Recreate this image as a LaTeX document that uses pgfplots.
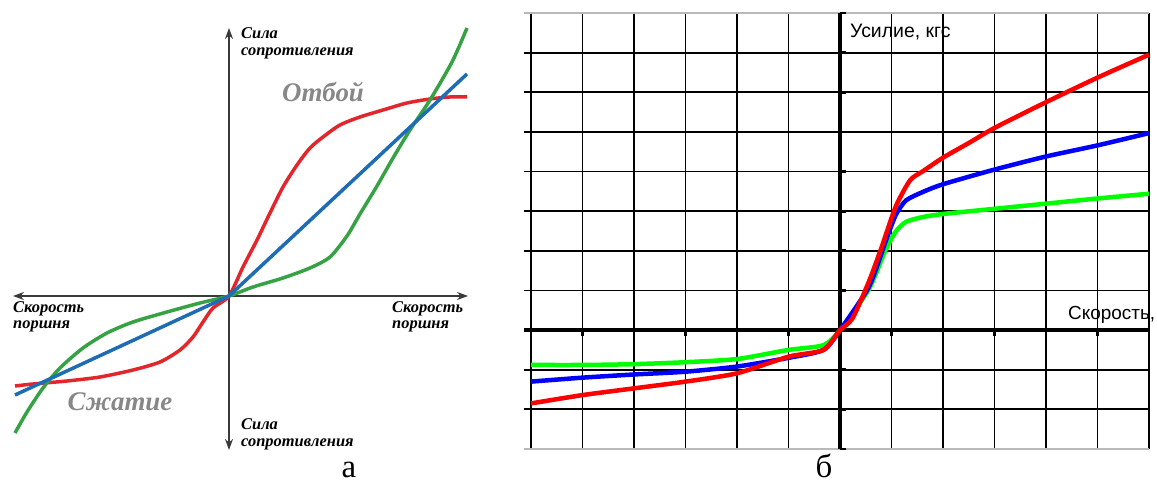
\documentclass[border=0pt]{standalone}
\usepackage{fontspec}
\setmainfont{Liberation Serif}
\newfontfamily\sansf{Liberation Sans}
\usepackage{pgfplots}
\pgfplotsset{compat=1.18}
\usetikzlibrary{arrows.meta}
\definecolor{ared}{HTML}{E2262B}
\definecolor{agreen}{HTML}{36A244}
\definecolor{ablue}{HTML}{1E6CB4}
\definecolor{axgray}{HTML}{3A3A3A}
\definecolor{txtgray}{HTML}{878787}
\newcommand{\lbl}{\fontsize{16.5}{16.5}\selectfont\bfseries\itshape}
\begin{document}
\begin{tikzpicture}[x=1bp,y=1bp]
\path[use as bounding box] (0,0) rectangle (1157,486);
% ---------------- panel a ----------------
\begin{axis}[at={(13bp,31bp)}, anchor=south west, scale only axis,
  width=457bp, height=435bp, xmin=-216, xmax=241, ymin=-159, ymax=276,
  hide axis, clip=false]
\draw[axgray, line width=1.4bp, {Stealth[length=11bp,width=8bp]}-{Stealth[length=11bp,width=8bp]}] (axis cs:-216,0) -- (axis cs:239,0);
\draw[axgray, line width=1.4bp, {Stealth[length=11bp,width=8bp]}-{Stealth[length=11bp,width=8bp]}] (axis cs:0,-154) -- (axis cs:0,268);
\addplot[ared, line width=3.5bp, smooth, tension=0.45] coordinates {
(-214,-90) (-196,-88) (-162,-85) (-129,-81) (-96,-74) (-69,-66) (-49,-54)
(-36,-41) (-26,-26) (-16,-12) (0,0) (14,29) (28,56) (41,83) (54,109) (68,131)
(81,148) (94,159) (111,171) (131,179) (154,186) (178,193) (201,197) (221,199) (238,199)};
\addplot[agreen, line width=3.5bp, smooth, tension=0.45] coordinates {
(-214,-137) (-202,-116) (-186,-92) (-169,-72) (-146,-52) (-122,-37) (-96,-26)
(-62,-16) (-29,-7) (0,0) (24,9) (54,18) (81,28) (101,39) (118,60) (131,82)
(148,110) (164,138) (181,166) (201,196) (223,234) (238,268)};
\addplot[ablue, line width=3.5bp] coordinates {(-214,-99) (0,0) (238,222)};
\node[anchor=base west, inner sep=0pt] at (axis cs:12,257) {\lbl Сила};
\node[anchor=base west, inner sep=0pt] at (axis cs:12,240) {\lbl сопротивления};
\node[anchor=base west, inner sep=0pt] at (axis cs:12,-134) {\lbl Сила};
\node[anchor=base west, inner sep=0pt] at (axis cs:12,-151) {\lbl сопротивления};
\node[anchor=base west, inner sep=0pt] at (axis cs:-216,-17) {\lbl Скорость};
\node[anchor=base west, inner sep=0pt] at (axis cs:-216,-33) {\lbl поршня};
\node[anchor=base west, inner sep=0pt] at (axis cs:163,-17) {\lbl Скорость};
\node[anchor=base west, inner sep=0pt] at (axis cs:163,-33) {\lbl поршня};
\node[txtgray, inner sep=0pt] at (axis cs:94,204) {\fontsize{27}{27}\selectfont\bfseries\itshape Отбой};
\node[txtgray, inner sep=0pt] at (axis cs:-109,-106) {\fontsize{27}{27}\selectfont\bfseries\itshape Сжатие};
\end{axis}
% ---------------- panel b ----------------
\begin{axis}[at={(531bp,37bp)}, anchor=south west, scale only axis,
  width=618bp, height=436bp, xmin=-6, xmax=6, ymin=-3, ymax=8,
  xtick={-6,...,6}, ytick={-2,...,7}, xticklabels={}, yticklabels={},
  major tick length=0pt, axis line style={draw=none},
  grid=major, major grid style={black, line width=1.8bp},
  extra y ticks={-3,8}, extra y tick labels={},
  extra y tick style={major grid style={gray!55, line width=1.8bp}},
  clip=false]
\pgfplotsinvokeforeach{-2,...,7}{\draw[black, line width=1.8bp] (axis cs:-6,#1) -- (axis cs:-6.136,#1);}
\draw[gray!55, line width=1.8bp] (axis cs:-6,8) -- (axis cs:-6.136,8);
\draw[gray!55, line width=1.8bp] (axis cs:-6,-3) -- (axis cs:-6.136,-3);
\draw[black, line width=3.5bp] (axis cs:0,-3) -- (axis cs:0,8);
\draw[black, line width=3.5bp] (axis cs:-6.136,0) -- (axis cs:6,0);
\pgfplotsinvokeforeach{-3,...,8}{\draw[black, line width=2.8bp] (axis cs:0,#1) -- (axis cs:0.1165,#1);}
\pgfplotsinvokeforeach{-6,...,6}{\draw[black, line width=2.8bp] (axis cs:#1,0) -- (axis cs:#1,-0.151);}
\addplot[green, line width=4.5bp, smooth, tension=0.4] coordinates {
(-6,-0.88) (-5,-0.88) (-4,-0.86) (-3,-0.81) (-2,-0.73) (-1,-0.5) (-0.32,-0.38)
(0,0) (0.56,1.03) (0.88,2.01) (1.08,2.48) (1.28,2.73) (1.6,2.85) (2,2.93)
(3,3.06) (4,3.19) (5,3.32) (6,3.44)};
\addplot[blue, line width=4.5bp, smooth, tension=0.4] coordinates {
(-6,-1.30) (-5,-1.20) (-4,-1.12) (-3,-1.05) (-2,-0.92) (-1,-0.70) (-0.32,-0.5)
(0,0) (0.56,1.09) (0.88,2.22) (1.08,2.9) (1.28,3.27) (1.6,3.48) (2,3.68)
(3,4.05) (4,4.38) (5,4.66) (6,4.97)};
\addplot[red, line width=4.5bp, smooth, tension=0.4] coordinates {
(-6,-1.85) (-5,-1.64) (-4,-1.47) (-3,-1.30) (-2,-1.09) (-1,-0.67) (-0.32,-0.5)
(0,0) (0.24,0.29) (0.56,1.22) (0.8,2.06) (1.08,3.11) (1.36,3.78) (1.6,4.0)
(2,4.35) (2.5,4.72) (3,5.1) (4,5.75) (5,6.37) (6,6.95)};
\end{axis}
\node[anchor=base west, inner sep=0pt] at (850,448) {\sansf\fontsize{19.5}{19.5}\selectfont Усилие, кгс};
\node[anchor=base west, inner sep=0pt] at (1068,166) {\sansf\fontsize{19}{19}\selectfont Скорость,};
\node[anchor=base, inner sep=0pt] at (349,8) {\fontsize{33}{33}\selectfont а};
\node[anchor=base, inner sep=0pt] at (824,8) {\fontsize{33}{33}\selectfont б};
\end{tikzpicture}
\end{document}
